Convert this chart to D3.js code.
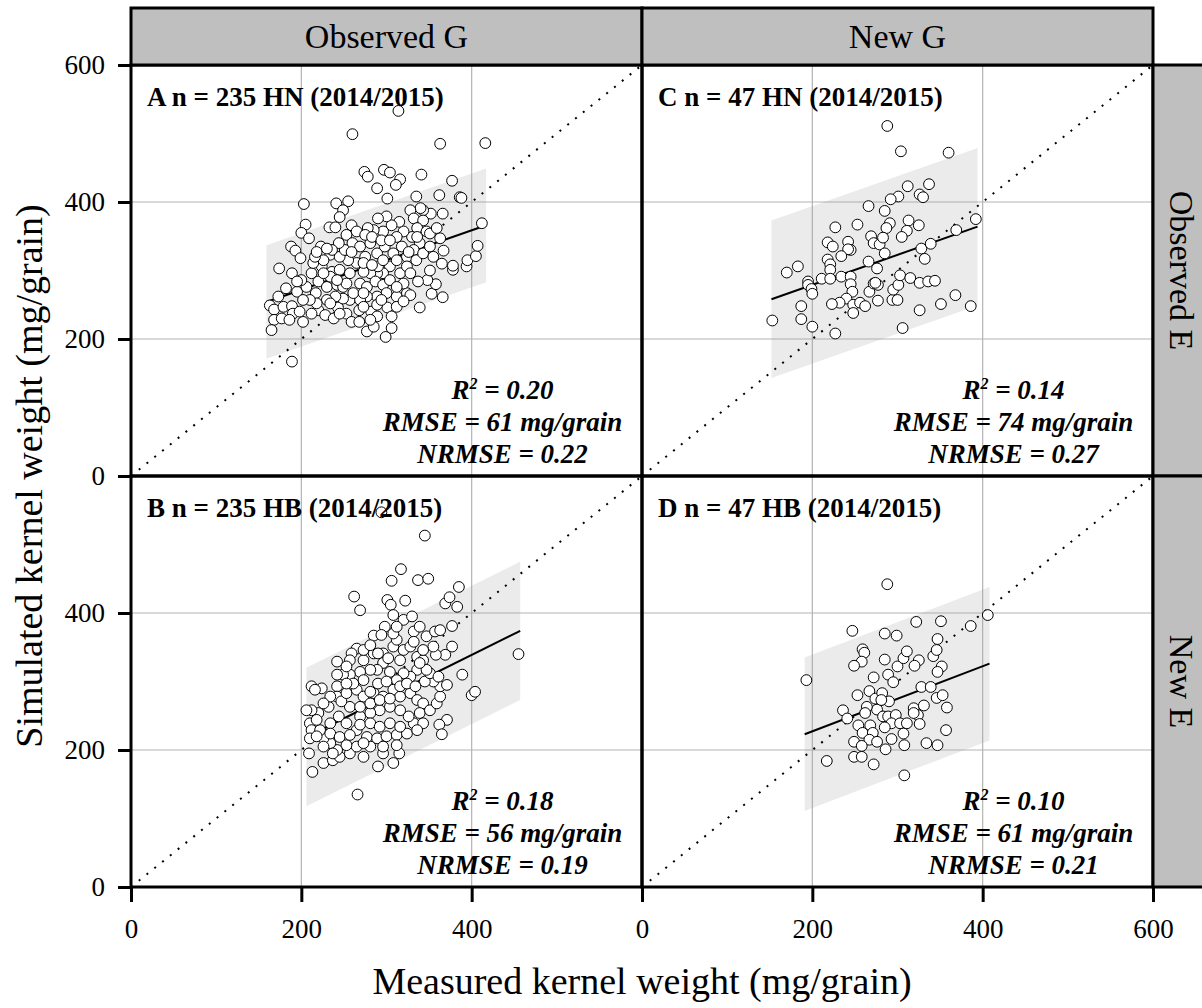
<!DOCTYPE html>
<html>
<head>
<meta charset="utf-8">
<script src="https://d3js.org/d3.v7.min.js"></script>
<style>
  body { margin: 0; background: #fff; }
  text { font-family: "Liberation Serif", "Times New Roman", serif; fill: #000; }
</style>
</head>
<body>
<script>
// ---- Data ----

// facet strips
const colStrips = ["Observed G", "New G"];
const rowStrips = ["Observed E", "New E"];

// panels in drawing order: A (top left), C (top right), B (bottom left), D (bottom right)
const panelLabels = ["A n = 235 HN (2014/2015)", "C n = 47 HN (2014/2015)",
                     "B n = 235 HB (2014/2015)", "D n = 47 HB (2014/2015)"];
const r2Values = ["0.20", "0.14", "0.18", "0.10"];
const rmseValues = ["61", "74", "56", "61"];
const nrmseValues = ["0.22", "0.27", "0.19", "0.21"];

// fitted line ends and half width of the grey prediction band
const fitX0 = [159, 152, 206, 191];
const fitX1 = [417, 394, 457, 408];
const fitY0 = [254, 258, 219, 223];
const fitY1 = [366, 364, 374, 326];
const bandHalf = [83, 115, 101, 112];

// tick labels
const xTicksLeft = [0, 200, 400];
const xTicksRight = [0, 200, 400, 600];
const yTicksTop = [0, 200, 400, 600];
const yTicksBottom = [0, 200, 400];

// measured (x) vs simulated (y) kernel weight, mg/grain
const pointsA = [[314,533],[260,499],[363,485],[416,486],[274,444],[278,437],[297,447],[304,443],[316,433],[311,425],
  [289,420],[341,440],[377,431],[301,405],[335,408],[362,410],[386,407],[388,406],[203,397],[241,398],[255,401],[249,388],
  [245,378],[233,363],[240,363],[259,366],[205,367],[200,355],[209,347],[188,335],[193,329],[199,318],[174,303],[189,296],
  [182,274],[195,269],[163,249],[168,243],[173,262],[179,247],[189,248],[168,228],[177,230],[190,237],[186,228],[202,225],
  [165,213],[198,240],[217,267],[212,296],[223,335],[225,320],[234,323],[236,298],[224,306],[214,311],[220,284],[230,276],
  [242,279],[249,276],[220,242],[228,235],[238,230],[243,246],[257,257],[253,237],[268,242],[259,225],[268,225],[277,211],
  [285,218],[282,240],[299,203],[306,216],[301,246],[312,262],[324,267],[328,264],[339,246],[366,261],[353,266],[358,280],
  [348,286],[337,284],[378,301],[378,307],[394,306],[395,315],[405,321],[407,336],[412,369],[365,310],[367,329],[363,347],
  [366,383],[352,383],[343,388],[340,391],[328,388],[332,376],[343,373],[336,362],[347,357],[339,340],[332,330],[324,320],
  [330,349],[320,357],[315,371],[306,366],[300,379],[290,376],[296,357],[285,359],[278,362],[265,357],[253,352],[260,340],
  [269,335],[275,320],[281,340],[289,325],[298,335],[308,325],[318,335],[312,349],[304,306],[296,296],[289,296],[281,296],
  [273,298],[265,311],[255,315],[245,320],[251,330],[244,340],[236,330],[226,315],[234,291],[245,301],[257,296],[269,281],
  [277,276],[287,284],[296,279],[304,286],[316,296],[324,306],[335,315],[343,325],[351,335],[355,320],[351,300],[328,296],
  [320,281],[312,276],[300,267],[289,262],[277,262],[269,257],[261,267],[249,259],[240,262],[230,257],[218,252],[210,257],
  [206,276],[200,286],[195,284],[202,257],[212,237],[234,252],[245,237],[273,247],[289,250],[294,257],[306,233],[312,247],
  [320,255],[289,233],[281,228],[273,267],[253,281],[242,286],[226,296],[216,320],[218,327],[230,332],[259,327],[275,352],
  [283,349],[294,344],[304,344],[336,349],[351,354],[359,362],[290,306],[273,311],[283,308],[296,315],[312,315],[326,327],
  [189,167]];

const pointsC = [[288,511],[304,474],[360,472],[312,423],[326,411],[330,407],[337,426],[301,408],[292,404],[266,394],
  [285,387],[291,369],[287,362],[313,373],[325,366],[311,358],[305,349],[253,367],[227,363],[218,341],[224,335],[242,342],
  [245,330],[242,331],[269,350],[272,340],[279,338],[283,348],[285,325],[234,321],[218,316],[221,309],[221,301],[266,313],
  [276,303],[328,332],[339,339],[332,317],[369,359],[392,375],[170,297],[183,306],[195,284],[195,279],[199,273],[200,266],
  [211,288],[221,288],[234,291],[245,291],[245,280],[247,269],[240,259],[232,253],[223,251],[248,250],[256,253],[262,248],
  [267,269],[272,281],[277,279],[277,256],[274,282],[294,257],[300,257],[295,272],[301,279],[303,293],[315,289],[326,282],
  [336,284],[344,285],[248,238],[187,248],[187,229],[200,218],[227,208],[153,227],[306,216],[326,242],[351,251],[368,264],
  [386,248]];

const pointsB = [[294,547],[345,513],[317,464],[306,447],[337,448],[349,450],[385,438],[262,424],[269,404],[301,419],
  [305,412],[322,418],[369,414],[374,423],[383,409],[308,397],[320,390],[330,395],[298,380],[285,367],[294,368],[332,373],
  [347,366],[357,373],[363,375],[377,381],[377,351],[369,339],[358,339],[389,310],[400,280],[404,285],[455,340],[265,348],
  [259,341],[257,331],[273,331],[285,341],[296,341],[308,351],[312,361],[320,346],[328,351],[336,336],[343,331],[336,317],
  [328,307],[320,312],[312,302],[304,314],[296,327],[289,317],[281,317],[269,314],[257,310],[249,310],[242,310],[242,293],
  [242,278],[232,263],[220,254],[212,293],[224,290],[212,258],[210,239],[212,229],[210,217],[209,195],[213,168],[226,181],
  [237,185],[245,190],[257,195],[273,190],[290,176],[308,181],[315,195],[296,195],[281,205],[265,205],[253,207],[242,200],
  [234,210],[226,217],[222,229],[234,239],[244,249],[253,239],[265,229],[277,219],[289,217],[300,220],[312,222],[324,224],
  [332,239],[326,249],[316,258],[304,263],[292,258],[281,254],[269,249],[257,263],[247,271],[253,283],[265,288],[273,278],
  [285,283],[296,278],[308,288],[316,278],[328,283],[336,273],[343,268],[339,254],[351,258],[359,268],[363,278],[363,293],
  [355,300],[345,300],[351,312],[361,307],[371,295],[371,244],[362,237],[365,223],[343,239],[336,229],[347,317],[339,327],
  [273,302],[261,297],[253,297],[234,278],[226,268],[218,244],[234,224],[245,219],[257,222],[269,237],[281,239],[292,234],
  [304,239],[316,234],[281,285],[290,297],[300,300],[316,293],[324,297],[334,293],[290,341],[302,334],[316,331],[332,358],
  [355,351],[343,346],[242,329],[253,322],[273,346],[281,353],[308,370],[312,380],[339,380],[216,288],[206,258],[218,220],
  [226,205],[237,195],[273,210],[296,205],[312,207],[269,263],[281,268],[292,273],[304,275],[266,135]];

const pointsD = [[288,442],[247,374],[285,370],[299,367],[322,387],[351,388],[347,362],[386,381],[406,397],[259,347],
  [261,342],[258,329],[249,323],[285,332],[300,322],[307,334],[311,344],[325,331],[320,323],[342,337],[346,346],[352,322],
  [347,314],[193,302],[272,306],[289,310],[295,299],[267,286],[253,280],[274,275],[282,283],[290,271],[276,259],[264,263],
  [236,258],[241,246],[262,254],[254,236],[268,236],[283,249],[289,249],[298,251],[293,239],[285,233],[303,239],[311,239],
  [319,261],[324,251],[319,254],[326,238],[328,292],[339,292],[331,265],[346,276],[353,280],[358,262],[357,229],[259,225],
  [271,225],[267,215],[276,212],[249,212],[258,206],[286,201],[293,216],[307,224],[308,207],[334,210],[347,207],[249,190],
  [258,190],[217,184],[272,179],[308,163],[281,273]];

const panelPoints = [pointsA, pointsC, pointsB, pointsD];

// ---- Layout ----
const width = 1202, height = 1008;
const marginLeft = 131, marginTop = 65, pw = 511, ph = 411;
const stripH = 57;
const serif = '"Liberation Serif", "Times New Roman", serif';

const svg = d3.select("body").append("svg")
  .attr("width", width)
  .attr("height", height)
  .attr("font-family", serif);

const x = d3.scaleLinear().domain([0, 600]).range([0, pw]);
const y = d3.scaleLinear().domain([0, 600]).range([ph, 0]);

svg.append("defs").append("clipPath")
  .attr("id", "panelClip")
  .append("rect")
  .attr("width", pw)
  .attr("height", ph);

function drawPanel(i) {
  const col = i % 2, row = Math.floor(i / 2);
  const g = svg.append("g")
    .attr("transform", "translate(" + (marginLeft + col * pw) + "," + (marginTop + row * ph) + ")");
  const inner = g.append("g").attr("clip-path", "url(#panelClip)");

  // grid lines
  inner.selectAll(".gx").data([200, 400]).enter().append("line")
    .attr("x1", d => x(d)).attr("x2", d => x(d))
    .attr("y1", 0).attr("y2", ph)
    .attr("stroke", "#b3b3b3").attr("stroke-width", 1.2);
  inner.selectAll(".gy").data([200, 400]).enter().append("line")
    .attr("y1", d => y(d)).attr("y2", d => y(d))
    .attr("x1", 0).attr("x2", pw)
    .attr("stroke", "#b3b3b3").attr("stroke-width", 1.2);

  // prediction band
  const band = [[fitX0[i], fitY0[i] + bandHalf[i]], [fitX1[i], fitY1[i] + bandHalf[i]],
                [fitX1[i], fitY1[i] - bandHalf[i]], [fitX0[i], fitY0[i] - bandHalf[i]]];
  inner.append("path")
    .attr("d", "M" + band.map(p => x(p[0]) + "," + y(p[1])).join("L") + "Z")
    .attr("fill", "#999")
    .attr("fill-opacity", 0.2);

  // 1:1 line
  inner.append("line")
    .attr("x1", x(0)).attr("y1", y(0))
    .attr("x2", x(600)).attr("y2", y(600))
    .attr("stroke", "#000")
    .attr("stroke-width", 2)
    .attr("stroke-dasharray", "2,8");

  // fitted line
  inner.append("line")
    .attr("x1", x(fitX0[i])).attr("y1", y(fitY0[i]))
    .attr("x2", x(fitX1[i])).attr("y2", y(fitY1[i]))
    .attr("stroke", "#000")
    .attr("stroke-width", 2);

  // points
  inner.selectAll("circle").data(panelPoints[i]).enter().append("circle")
    .attr("cx", d => x(d[0]))
    .attr("cy", d => y(d[1]))
    .attr("r", 5.4)
    .attr("fill", "#fff")
    .attr("stroke", "#000")
    .attr("stroke-width", 1);

  // panel label
  g.append("text")
    .attr("x", 16).attr("y", 41)
    .style("font-size", "27px")
    .style("font-weight", "bold")
    .text(panelLabels[i]);

  // stats
  const stats = g.append("g")
    .attr("transform", "translate(371.5,0)")
    .style("font-size", "27px")
    .style("font-weight", "bold")
    .style("font-style", "italic")
    .attr("text-anchor", "middle");
  const r2 = stats.append("text").attr("y", 334);
  r2.append("tspan").text("R");
  r2.append("tspan").attr("dy", -10).style("font-size", "16px").text("2");
  r2.append("tspan").attr("dy", 10).text(" = " + r2Values[i]);
  stats.append("text").attr("y", 366).text("RMSE = " + rmseValues[i] + " mg/grain");
  stats.append("text").attr("y", 398).text("NRMSE = " + nrmseValues[i]);
}

for (let i = 0; i < 4; i++) drawPanel(i);

// ---- Axes ----
function styleAxis(a) {
  a.attr("font-family", serif).attr("font-size", 27);
  a.select(".domain").remove();
  a.selectAll(".tick line").attr("stroke", "#000").attr("stroke-width", 3);
  a.selectAll(".tick text").attr("fill", "#000");
}

[yTicksTop, yTicksBottom].forEach(function (ticks, row) {
  svg.append("g")
    .attr("transform", "translate(" + marginLeft + "," + (marginTop + row * ph) + ")")
    .call(d3.axisLeft(y).tickValues(ticks).tickSize(13).tickPadding(13).tickFormat(d3.format("d")))
    .call(styleAxis);
});

[xTicksLeft, xTicksRight].forEach(function (ticks, col) {
  svg.append("g")
    .attr("transform", "translate(" + (marginLeft + col * pw) + "," + (marginTop + 2 * ph) + ")")
    .call(d3.axisBottom(x).tickValues(ticks).tickSize(15).tickPadding(17).tickFormat(d3.format("d")))
    .call(styleAxis);
});

// ---- Panel borders ----
for (let i = 0; i < 4; i++) {
  svg.append("rect")
    .attr("x", marginLeft + (i % 2) * pw)
    .attr("y", marginTop + Math.floor(i / 2) * ph)
    .attr("width", pw).attr("height", ph)
    .attr("fill", "none")
    .attr("stroke", "#000")
    .attr("stroke-width", 3);
}

// ---- Strips ----
colStrips.forEach(function (s, col) {
  svg.append("rect")
    .attr("x", marginLeft + col * pw).attr("y", marginTop - stripH)
    .attr("width", pw).attr("height", stripH)
    .attr("fill", "#bfbfbf").attr("stroke", "#000").attr("stroke-width", 3);
  svg.append("text")
    .attr("x", marginLeft + col * pw + pw / 2)
    .attr("y", marginTop - stripH / 2)
    .attr("dy", "0.35em")
    .attr("text-anchor", "middle")
    .style("font-size", "34px")
    .text(s);
});

rowStrips.forEach(function (s, row) {
  svg.append("rect")
    .attr("x", marginLeft + 2 * pw).attr("y", marginTop + row * ph)
    .attr("width", stripH).attr("height", ph)
    .attr("fill", "#bfbfbf").attr("stroke", "#000").attr("stroke-width", 3);
  svg.append("text")
    .attr("transform", "translate(" + (marginLeft + 2 * pw + stripH / 2) + "," + (marginTop + row * ph + ph / 2) + ") rotate(90)")
    .attr("dy", "0.35em")
    .attr("text-anchor", "middle")
    .style("font-size", "34px")
    .text(s);
});

// ---- Axis titles ----
svg.append("text")
  .attr("x", marginLeft + pw)
  .attr("y", 994)
  .attr("text-anchor", "middle")
  .style("font-size", "38px")
  .text("Measured kernel weight (mg/grain)");

svg.append("text")
  .attr("transform", "translate(42," + (marginTop + ph) + ") rotate(-90)")
  .attr("text-anchor", "middle")
  .style("font-size", "38px")
  .text("Simulated kernel weight (mg/grain)");
</script>
</body>
</html>
